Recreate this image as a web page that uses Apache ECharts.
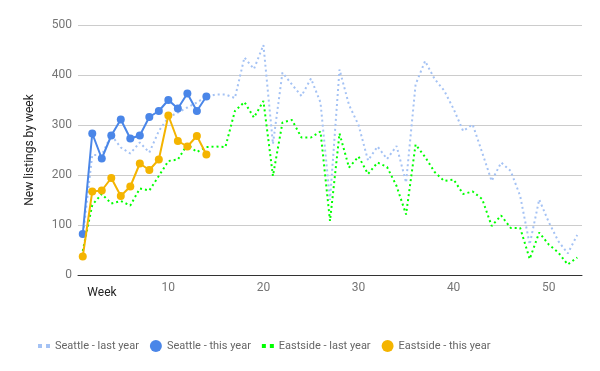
<!DOCTYPE html>
<html><head><meta charset="utf-8">
<script src="https://cdn.jsdelivr.net/npm/echarts@6/dist/echarts.min.js"></script>
<style>html,body{margin:0;padding:0;background:#fff}#c{width:600px;height:371px}</style>
</head><body><div id="c"></div>
<script>
const weeks = Array.from({length:53},(_,i)=>i+1);
const seattleLast = [75,240,240,280,255,243,265,245,288,315,325,335,345,357,361,361,354,435,412,460,262,405,381,358,393,345,150,411,340,300,229,257,232,258,185,381,428,392,369,332,288,301,245,188,225,208,158,61,151,106,68,43,80];
const seattleThis = [82,283,233,279,311,273,279,316,328,350,333,363,328,357];
const eastsideLast = [48,140,162,143,148,139,173,169,198,228,231,261,246,256,257,256,328,346,315,348,198,305,310,275,275,287,108,283,215,237,202,225,216,178,121,261,236,206,188,191,162,167,152,98,119,94,94,32,85,61,45,21,35];
const eastsideThis = [37,167,169,194,158,177,223,210,231,319,268,257,278,241];
const xTicks = [10,20,30,40,50];
const yTicks = [0,100,200,300,400,500];
const names = ['Seattle - last year','Seattle - this year','Eastside - last year','Eastside - this year'];

const pairs = arr => arr.map((v,i)=>[weeks[i], v]);
const dotIcon = 'path://M0,0h4v4h-4zM8,0h4v4h-4z';
const font = 'Roboto';
const chart = echarts.init(document.getElementById('c'));
chart.setOption({
  animation:false,
  textStyle:{fontFamily:font},
  grid:{left:78,right:18,top:25,bottom:96},
  xAxis:{type:'value',min:0.5,max:53.5,
    axisLine:{show:true,lineStyle:{color:'#333',width:1}},
    axisTick:{show:false},splitLine:{show:false},
    axisLabel:{customValues:xTicks,color:'#757575',fontSize:12,margin:7,fontFamily:font}},
  yAxis:{type:'value',min:0,max:500,interval:100,
    axisLine:{show:false},axisTick:{show:false},
    splitLine:{lineStyle:{color:'#cccccc',width:1}},
    axisLabel:{color:'#757575',fontSize:12,margin:6,fontFamily:font,
      formatter:v=>yTicks.includes(v)?String(v):''}},
  legend:{left:33,top:335,itemWidth:12,itemHeight:12,itemGap:11,
    textStyle:{color:'#666',fontSize:11,fontFamily:font},
    data:[{name:names[0],icon:dotIcon},{name:names[1],icon:'circle'},{name:names[2],icon:dotIcon},{name:names[3],icon:'circle'}]},
  graphic:[
    {type:'text',x:30,y:150,rotation:Math.PI/2,style:{text:'New listings by week',fill:'#222',font:'12px Roboto',textAlign:'center',textVerticalAlign:'middle'}},
    {type:'text',x:102,y:293,style:{text:'Week',fill:'#222',font:'12px Roboto',textAlign:'center',textVerticalAlign:'middle'}}
  ],
  series:[
    {name:names[0],type:'line',data:pairs(seattleLast),showSymbol:false,symbol:'none',z:1,
      itemStyle:{color:'#a4c2f4'},lineStyle:{color:'#a4c2f4',width:2,type:[2,3]}},
    {name:names[2],type:'line',data:pairs(eastsideLast),showSymbol:false,symbol:'none',z:2,
      itemStyle:{color:'#00ff00'},lineStyle:{color:'#00ff00',width:2,type:[2,3]}},
    {name:names[1],type:'line',data:pairs(seattleThis),symbol:'circle',symbolSize:8,z:3,
      itemStyle:{color:'#4a86e8'},lineStyle:{color:'#4a86e8',width:2}},
    {name:names[3],type:'line',data:pairs(eastsideThis),symbol:'circle',symbolSize:8,z:4,
      itemStyle:{color:'#f4b400'},lineStyle:{color:'#f4b400',width:2}}
  ]
});
</script></body></html>
